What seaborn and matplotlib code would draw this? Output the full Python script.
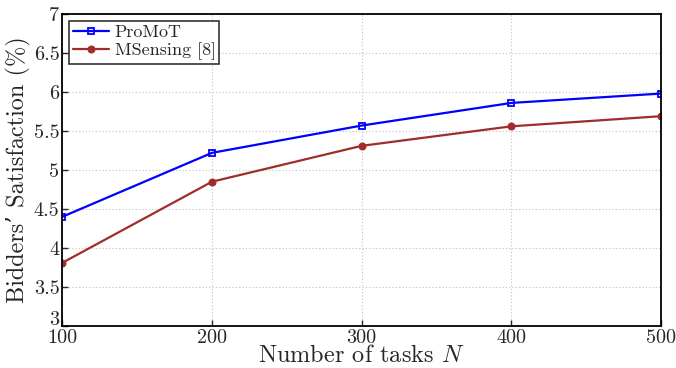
import matplotlib
matplotlib.use("Agg")
import matplotlib.pyplot as plt
import matplotlib.transforms as mtransforms
import seaborn as sns
import pandas as pd

# data
num_tasks = [100, 200, 300, 400, 500]
promot = [4.40, 5.22, 5.57, 5.86, 5.98]
msensing = [3.81, 4.85, 5.31, 5.56, 5.69]
series_names = ["ProMoT", "MSensing [8]"]
y_ticks = [3, 3.5, 4, 4.5, 5, 5.5, 6, 6.5, 7]
y_tick_labels = ["3", "3.5", "4", "4.5", "5", "5.5", "6", "6.5", "7"]

df = pd.DataFrame({
    "N": num_tasks * 2,
    "value": promot + msensing,
    "method": [series_names[0]] * len(num_tasks) + [series_names[1]] * len(num_tasks),
})

sns.set_style("ticks")
plt.rcParams["font.family"] = ["cmr10", "DejaVu Serif"]
plt.rcParams["mathtext.fontset"] = "cm"
plt.rcParams["axes.unicode_minus"] = False
plt.rcParams["axes.formatter.use_mathtext"] = True

fig = plt.figure(figsize=(6.76, 3.68), dpi=100)
ax = fig.add_axes([0.092, 0.114, 0.886, 0.848])

colors = {"ProMoT": "#0000ff", "MSensing [8]": "#a02c2c"}
markers = {"ProMoT": "s", "MSensing [8]": "o"}
sns.lineplot(data=df, x="N", y="value", hue="method", style="method",
             palette=colors, markers=markers, dashes=False, ax=ax,
             linewidth=1.6, markersize=5, legend=True)


def style_lines(lines):
    for line in lines:
        c = line.get_color()
        line.set_markeredgecolor(c)
        if line.get_marker() == "s":
            line.set_markerfacecolor("none")
            line.set_markeredgewidth(1.3)
            line.set_markersize(4.5)
        else:
            line.set_markerfacecolor(c)
            line.set_markersize(5)


style_lines(ax.lines)

ax.set_xlim(100, 500)
ax.set_ylim(3, 7)
ax.set_xticks(num_tasks)
ax.set_xticklabels([str(v) for v in num_tasks])
ax.set_yticks(y_ticks)
ax.set_yticklabels(y_tick_labels)
ax.tick_params(direction="in", labelsize=14.5, length=4, width=1, pad=2)
ax.grid(True, linestyle=(0, (1, 2)), color="#c0c0c0", linewidth=0.8)
for s in ax.spines.values():
    s.set_linewidth(1.3)
    s.set_color("black")

# lift the bottom y label so it sits just above "100"
lbl = ax.get_yticklabels()[0]
lbl.set_transform(lbl.get_transform() + mtransforms.ScaledTranslation(0, 6 / 72, fig.dpi_scale_trans))

ax.set_xlabel("Number of tasks $N$", fontsize=17.5, labelpad=-1)
ax.set_ylabel("Bidders\u2019 Satisfaction (%)", fontsize=17.5, labelpad=2)

leg = ax.legend(loc="upper left", fontsize=13, frameon=True, fancybox=False,
                borderpad=0.2, handlelength=2.0, handletextpad=0.3,
                labelspacing=0.1, borderaxespad=0.4)
leg.get_frame().set_edgecolor("black")
leg.get_frame().set_linewidth(1.2)
style_lines(leg.get_lines())

fig.savefig("out.png", dpi=100)
